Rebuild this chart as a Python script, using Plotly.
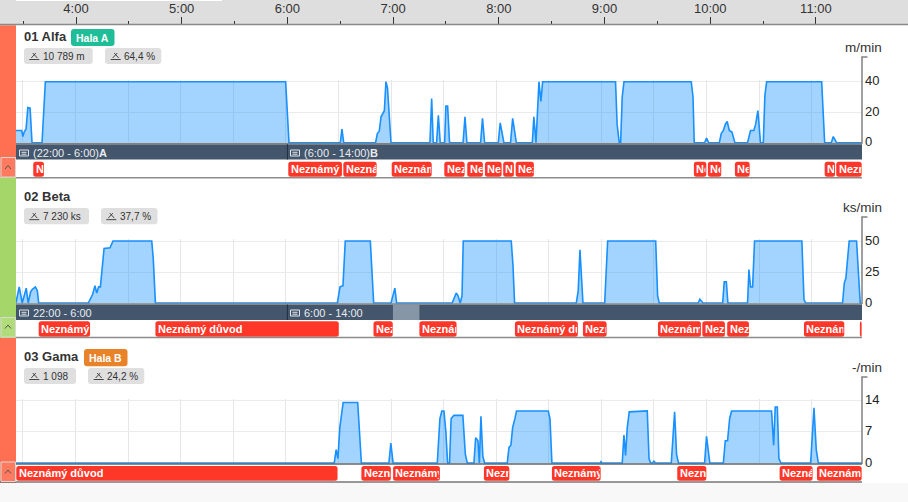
import plotly.graph_objects as go

# ---------- data (minutes after midnight / values) ----------
alfa_t = [206,209.3,210,210.7,211.8,212.8,214.1,215.2,220.9,221.7,222.8,359.9,361.8,391.1,392,393,411.2,412.2,413.3,414.3,415.4,416.2,417.1,418,420,442.2,443.2,444.1,446,447,448.1,450.6,451.3,452.3,453.4,461.1,462.2,463.3,471.1,472.2,473.4,481.2,482.3,484.4,488.2,489.4,491.5,500.6,501.5,502.7,504.4,505.5,506.5,548.1,549,550.2,551,551.9,552.9,591.3,592.3,593,598.9,600,601.2,607.3,608.4,609.6,610.7,611.8,613,614.5,616.2,623.4,625.1,627,628,629.3,630.8,632.4,633.3,634.3,665.7,666.4,667.4,671.2,672.3,674.2,688.5]
alfa_v = [8,8,4,7,9,23,22.6,0,0,15,40,40,0,0,9,0,0,6,7.5,17,20,21,40,36,0,0,29,0,0,18,0,0,24,24,0,0,17,0,0,16,0,0,13,0,0,16,0,0,17,0,40,27,40,40,12,0,0,30,40,40,30,0,0,3,0,0,6,8,12,14,8,7,0,0,8,8,12,21,0,0,31,40,40,25,0,0,4,0,0]

beta_t = [206,207.9,209.6,211.9,213,214.4,215.4,217.1,218.2,219,247.3,249.8,251.1,252.1,253.2,254.2,256.3,259.7,261.4,283.5,284.4,285.6,389.4,390.9,392.6,393.9,408.2,410.1,420,422.2,423.2,454.9,457.2,458.2,459.5,460.5,461.2,488.6,489.6,490.5,525.7,526.8,527.8,529.5,541.9,543.6,571,572.1,573,595.3,596.2,598,609.2,610.1,611.3,612.2,623.4,624.2,625.1,626.3,627.4,654.4,655.6,656.5,677.6,678.6,679.5,680.7,681.4,685.6,686.8,687.7,688.5]
beta_v = [0,13,0,12,0,9,11,13,10,0,0,7,14,8,13,13,44,44.5,50,50,35,0,0,13,14,50,50,0,0,12,0,0,8,6,0,6,50,50,30,0,0,10,43,0,0,50,50,6,0,0,3,0,0,17,17,0,0,27,13,13,50,50,3,0,0,16,20,42,50,50,25,0,0]

gama_t = [206,387.6,388.7,389.7,390.8,392.7,401,403.1,418.8,419.9,421.2,446.4,447.9,449,450.2,451.3,452.3,453.4,454.3,455.9,461,462.4,463.5,467.3,468.3,469.6,470.4,471.3,472.4,473.4,486.3,487.3,488.4,489.4,490.7,491.6,509.7,510.7,511.8,539.4,539.8,540.4,551.9,552.9,553.8,554.8,555.9,566.2,567.2,568.1,569.2,570,570.9,579.9,581.8,582.9,584,598.9,600,601.9,609.6,610.7,612,613.2,614.3,637.1,638.3,639.2,640.4,641.3,642.5,659.4,661.3,662.6,663.8,688.5]
gama_v = [0,0,3,1,8,13.6,13.6,0,0,4.5,0,0,10,11.7,11.7,7,0,0,10,10.7,10.7,2,0,0,5.7,5,0,10.5,1.5,0,0,3.5,4,8,10,11.7,11.7,10,0,0,0.3,0,0,6.3,1.7,8,11.5,11.7,1,0,0,0.4,0,0,11.5,2,0,0,6,0,0,5,5,10,11.7,11.7,4,12.6,12.6,1,0,0,12.4,3,0,0]

alfa_reason_start = [215.9,361.4,392.8,420.4,450.4,463.5,473.6,484,491.1,592.8,600.8,616.2,667.4,674]
alfa_reason_end   = [222,392,411.8,443.2,462,472.4,483.1,490.1,501.5,599.9,608.4,624.6,673.3,688.5]
beta_reason_start = [219,285.6,410,436.2,490.7,529.5,572.3,597.6,611.8,655.6,687.5]
beta_reason_end   = [248.3,390.2,421,457.4,526.6,543,596.8,610.5,624.2,678.6,688.5]
gama_reason_start = [206.2,403.1,421.2,473,511.8,583.3,641.7,663]
gama_reason_end   = [389.5,419.9,447.9,487.5,539.6,599.9,660.5,688.5]
reason_label = "Neznámý důvod"

hour_ticks = [4,5,6,7,8,9,10,11]
hour_labels = ["4:00","5:00","6:00","7:00","8:00","9:00","10:00","11:00"]
half_ticks = [3.5,4.5,5.5,6.5,7.5,8.5,9.5,10.5,11.5]
grid_ticks = [3.5,4,4.5,5,5.5,6,6.5,7,7.5,8,8.5,9,9.5,10,10.5,11]

alfa_ticks = [0,20,40]
beta_ticks = [0,25,50]
gama_ticks = [0,7,14]
names = ["01 Alfa","02 Beta","03 Gama"]
units = ["m/min","ks/min","-/min"]
stats = [["10 789 m","64,4 %"],["7 230 ks","37,7 %"],["1 098","24,2 %"]]

# ---------- layout constants ----------
W, H = 908, 502
PX_H = 105.17          # pixels per hour, chart scale
X_L, X_R = 16, 862
x_min = 4 + (X_L - 75.5) / PX_H
x_max = 4 + (X_R - 75.5) / PX_H
def py(y): return 1 - y / H
def px(x): return x / W
def hours(ms): return [m / 60 for m in ms]

# Liberation Sans Bold advance widths (em) for the chip label
CHAR_EM = {"N":.722,"e":.556,"z":.5,"n":.611,"á":.556,"m":.889,"ý":.556," ":.278,"d":.611,"ů":.611,"v":.556,"o":.611}
def visible_prefix(label, width, size=11):
    used, out = 0, ""
    for ch in label:
        out += ch
        used += CHAR_EM.get(ch, .6) * size
        if used >= width:
            break
    return out

shapes, ann = [], []

def rect(x0, y0, x1, y1, fill, line=None, lw=1, layer="below"):
    shapes.append(dict(type="rect", xref="paper", yref="paper", x0=px(x0), x1=px(x1), y0=py(y0), y1=py(y1),
                       fillcolor=fill, line=dict(color=line or fill, width=lw if line else 0), layer=layer))
def hline(x0, x1, y, c, w=1, layer="above"):
    shapes.append(dict(type="line", xref="paper", yref="paper", x0=px(x0), x1=px(x1), y0=py(y), y1=py(y),
                       line=dict(color=c, width=w), layer=layer))
def vline(x, y0, y1, c, w=1, layer="above"):
    shapes.append(dict(type="line", xref="paper", yref="paper", x0=px(x), x1=px(x), y0=py(y0), y1=py(y1),
                       line=dict(color=c, width=w), layer=layer))
def rpath(x0, y0, x1, y1, r=3):
    rx, ry = r / W, r / H
    a, b, c, d = px(x0), px(x1), py(y0), py(y1)
    return (f"M{a+rx},{c} L{b-rx},{c} Q{b},{c} {b},{c-ry} L{b},{d+ry} Q{b},{d} {b-rx},{d} "
            f"L{a+rx},{d} Q{a},{d} {a},{d+ry} L{a},{c-ry} Q{a},{c} {a+rx},{c} Z")
def rrect(x0, y0, x1, y1, fill, r=3):
    shapes.append(dict(type="path", xref="paper", yref="paper", path=rpath(x0, y0, x1, y1, r),
                       fillcolor=fill, line=dict(width=0), layer="above"))
def text(x, y, s, size=12, color="#333333", anchor="left", family="Liberation Sans"):
    ann.append(dict(xref="paper", yref="paper", x=px(x), y=py(y), text=s, showarrow=False, xanchor=anchor,
                    yanchor="middle", align=anchor, font=dict(size=size, color=color, family=family),
                    borderpad=0, borderwidth=0))

# ---------- page chrome ----------
rect(0, 0, W, 24.5, "#dedede")
rect(16, 0, 222, 1, "#ffffff")
hline(0, W, 24.6, "#8a8a8a", 1.5)
rect(0, 483, W, H, "#f8f8f8")
rect(0, 25.3, 16, 177.5, "#ff7052")
rect(0, 177.5, 16, 338, "#a5d66a")
rect(0, 338, 16, 482.5, "#ff7052")

def tool_icon(cx, cy):
    p = (f"M{px(cx-3)},{py(cy+2)} L{px(cx+1.5)},{py(cy-3)} M{px(cx+3)},{py(cy+2)} L{px(cx-1.5)},{py(cy-3)} "
         f"M{px(cx-5)},{py(cy+3.5)} L{px(cx+5)},{py(cy+3.5)}")
    shapes.append(dict(type="path", xref="paper", yref="paper", path=p, line=dict(color="#444444", width=1), layer="above"))

def cal_icon(x, y, c="#dfe4ea"):
    shapes.append(dict(type="rect", xref="paper", yref="paper", x0=px(x), x1=px(x+9), y0=py(y-3), y1=py(y+3),
                       line=dict(color=c, width=1), fillcolor="rgba(0,0,0,0)", layer="above"))
    hline(x+2, x+7, y-0.7, c, 1)
    hline(x+2, x+7, y+1.2, c, 1)

def chevron(cy, btn_fill, y0, y1):
    rect(1, y0, 15.5, y1, btn_fill, "#d9d9d9", 1, "above")
    p = f"M{px(5)},{py(cy+2)} L{px(8)},{py(cy-1.5)} L{px(11)},{py(cy+2)}"
    shapes.append(dict(type="path", xref="paper", yref="paper", path=p, line=dict(color="#555555", width=1), layer="above"))

rows = [
    dict(t=alfa_t, v=alfa_v, ticks=alfa_ticks, y0=142.7, ytop=81.7, ax_top=57, starts=alfa_reason_start, ends=alfa_reason_end,
         chip_y=(161.8, 176.8), btn=(157.5, 177), chev=167, title_y=36, stat_y=(48, 64), label_y=47),
    dict(t=beta_t, v=beta_v, ticks=beta_ticks, y0=303, ytop=241, ax_top=217, starts=beta_reason_start, ends=beta_reason_end,
         chip_y=(321.3, 336.7), btn=(317.5, 337), chev=326.5, title_y=196, stat_y=(208, 224.3), label_y=207),
    dict(t=gama_t, v=gama_v, ticks=gama_ticks, y0=463, ytop=400.7, ax_top=377, starts=gama_reason_start, ends=gama_reason_end,
         chip_y=(466, 480.8), btn=(462, 481.5), chev=471.5, title_y=356, stat_y=(368, 384), label_y=367),
]

data = []
layout_axes = {}
for i, r in enumerate(rows, start=1):
    vmax = r["ticks"][-1]
    k = (r["y0"] - r["ytop"]) / vmax
    dom_top, dom_bot = r["ytop"] - 2, r["y0"] + 1.2
    xn, yn = f"x{i}", f"y{i}"
    data.append(go.Scatter(x=hours(r["t"]), y=r["v"], mode="lines", xaxis=xn, yaxis=yn, fill="tozeroy",
                           line=dict(color="#1890ff", width=1.6), fillcolor="rgba(24,144,255,0.4)",
                           showlegend=False, hoverinfo="skip"))
    layout_axes[f"xaxis{i}"] = dict(domain=[px(X_L), px(X_R)], range=[x_min, x_max], anchor=yn, tickmode="array",
                                    tickvals=grid_ticks, showticklabels=False, ticks="", showgrid=True,
                                    gridcolor="#e6e6e6", gridwidth=1, zeroline=False, showline=False)
    layout_axes[f"yaxis{i}"] = dict(domain=[py(dom_bot), py(dom_top)], anchor=xn, side="right",
                                    range=[-(dom_bot - r["y0"]) / k, (r["y0"] - dom_top) / k],
                                    tickmode="array", tickvals=r["ticks"], ticks="", showgrid=True, gridcolor="#ebebeb",
                                    gridwidth=1, zeroline=False, showline=False, ticklabelstandoff=2, ticklabelshift=-1,
                                    tickfont=dict(size=13, color="#222222", family="Liberation Sans"))
    # axis line with top cap
    vline(X_R, r["ax_top"], r["y0"] + 1, "#808080", 1.5)
    hline(X_R - 0.7, X_R + 5.5, r["ax_top"], "#808080", 1.5)
    hline(X_L, X_R, r["y0"] + 1, "#808080" if i < 3 else "#666666", 1.5)
    text(882, r["label_y"], units[i-1], 13.5, "#333333", "right")
    # row title
    text(24, r["title_y"], f"<b>{names[i-1]}</b>", 13, "#333333")
    # reason chips
    cy0, cy1 = r["chip_y"]
    for s, e in zip(r["starts"], r["ends"]):
        a, b = s / 60, e / 60
        rx = 2.5 / PX_H
        ry = 2.5 / H
        if (b - a) < 2 * rx:
            rx = (b - a) / 2
        t, u = py(cy0), py(cy1)
        shapes.append(dict(type="path", xref="x1", yref="paper",
                           path=f"M{a+rx},{t} L{b-rx},{t} Q{b},{t} {b},{t-ry} L{b},{u+ry} Q{b},{u} {b-rx},{u} "
                                f"L{a+rx},{u} Q{a},{u} {a},{u+ry} L{a},{t-ry} Q{a},{t} {a+rx},{t} Z",
                           fillcolor="#ff3729", line=dict(width=0), layer="above"))
        wpx = (b - a) * PX_H
        if wpx > 4:
            clip_w = max(wpx - 3, 2)
            ann.append(dict(xref="x1", yref="paper", x=a, y=py((cy0 + cy1) / 2), xanchor="left", yanchor="middle",
                            xshift=2.3, text=f"<b>{visible_prefix(reason_label, clip_w)}</b>", showarrow=False,
                            align="left", width=clip_w, borderpad=0, borderwidth=0,
                            font=dict(size=11, color="#ffffff", family="Liberation Sans")))

# separators
hline(16, X_R, 177.8, "#8c8c8c", 1.5)
hline(16, X_R, 337.6, "#8c8c8c", 1.5)
hline(0, X_R, 482, "#333333", 1)

# tags
rrect(71, 29, 114.5, 46, "#1fbd98")
text(92.8, 37.5, "<b>Hala A</b>", 10.5, "#ffffff", "center")
rrect(84, 349, 127.5, 366.3, "#e8832a")
text(105.8, 357.5, "<b>Hala B</b>", 10.5, "#ffffff", "center")

# stat chips: (chip x0, chip x1, icon x, text x)
stat_geo = [[(24, 92.7, 34.3, 43), (105, 161.3, 115.7, 123.7)],
            [(24, 89, 34.3, 42.7), (101, 157.5, 111.3, 119.7)],
            [(24, 76, 34.3, 43.3), (88, 144.3, 98.7, 106.7)]]
for i, r in enumerate(rows):
    y0, y1 = r["stat_y"]
    for (a, b, ic, tx), s in zip(stat_geo[i], stats[i]):
        rrect(a, y0, b, y1, "#dfdfdf")
        tool_icon(ic, (y0 + y1) / 2)
        text(tx, (y0 + y1) / 2 + 0.3, s, 10, "#333333")

# collapse buttons
chevron(rows[0]["chev"], "#ff7a5e", *rows[0]["btn"])
chevron(rows[1]["chev"], "#b0dc7a", *rows[1]["btn"])
chevron(rows[2]["chev"], "#ff7a5e", *rows[2]["btn"])

# shift bands
BAND = "#44566c"
rect(X_L, 144.2, X_R, 159.5, BAND)
rect(X_L, 304.6, X_R, 320, BAND)
vline(287.4, 144.2, 159.5, "#1f2f42", 1)
vline(287.4, 304.6, 320, "#1f2f42", 1)
shapes.append(dict(type="rect", xref="x2", yref="paper", x0=421.1/60, x1=436.2/60, y0=py(304.6), y1=py(320),
                   fillcolor="#8796a6", line=dict(width=0), layer="above"))
for x, label, bold in [(33, "(22:00 - 6:00)", "A"), (304, "(6:00 - 14:00)", "B")]:
    text(x, 152.8, f"{label}<b>{bold}</b>", 11, "#e8ecf0")
for x, label in [(33, "22:00 - 6:00"), (304, "6:00 - 14:00")]:
    text(x, 312.8, label, 11, "#e8ecf0")
for x, y in [(19.5, 153), (290.5, 153), (19.5, 313), (290.5, 313)]:
    cal_icon(x, y)

# top time axis
top = 4 + (X_L - 76) / 105.7, 4 + (X_R - 76) / 105.7
data.append(go.Scatter(x=[hour_ticks[0]], y=[0], xaxis="x4", yaxis="y4", mode="markers", marker=dict(opacity=0),
                       showlegend=False, hoverinfo="skip"))
layout_axes["xaxis4"] = dict(domain=[px(X_L), 1 - (W - X_R) / W], range=list(top), anchor="y4", side="top",
                             tickmode="array", tickvals=hour_ticks, ticktext=hour_labels, ticks="outside", ticklen=7,
                             tickwidth=1, tickcolor="#333333", showgrid=False, zeroline=False, showline=False,
                             ticklabelstandoff=-2,
                             tickfont=dict(size=13, color="#333333", family="Liberation Sans"),
                             minor=dict(tickmode="array", tickvals=half_ticks, ticks="outside", ticklen=3, tickwidth=1,
                                        tickcolor="#333333", showgrid=False))
layout_axes["yaxis4"] = dict(domain=[py(25), py(24.5)], anchor="x4", visible=False, range=[-1, 1])

fig = go.Figure(data=data)
fig.update_layout(width=W, height=H, margin=dict(l=0, r=0, t=0, b=0, pad=0, autoexpand=False), autosize=False,
                  paper_bgcolor="#ffffff", plot_bgcolor="rgba(0,0,0,0)", showlegend=False,
                  font=dict(family="Liberation Sans"), shapes=shapes, annotations=ann, **layout_axes)
fig.write_html("out.html", post_script="document.body.style.margin='0';document.body.style.overflow='hidden';",
               config={"displayModeBar": False})
